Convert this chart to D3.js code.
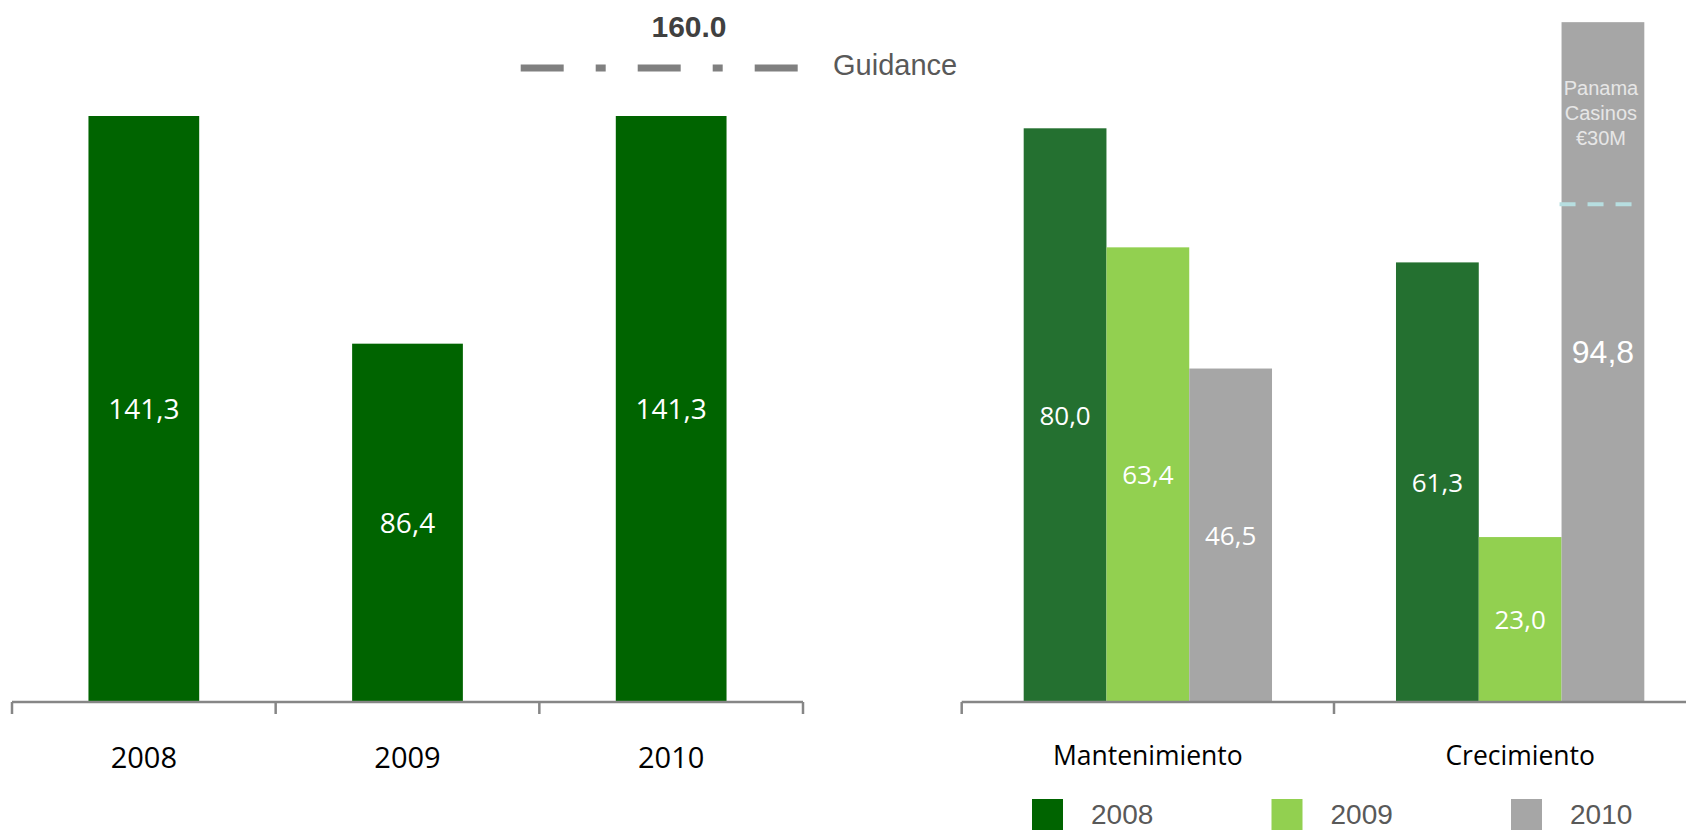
<!DOCTYPE html>
<html>
<head>
<meta charset="utf-8">
<script src="https://cdnjs.cloudflare.com/ajax/libs/d3/7.8.5/d3.min.js"></script>
<style>
    body { margin: 0; background: #fff; }
    svg { display: block; }
</style>
</head>
<body>
<svg width="1686" height="830"></svg>
<script>
// left chart: total capex per year
let years = ["2008", "2009", "2010"]
let totals = [141.3, 86.4, 141.3]
let totalLabels = ["141,3", "86,4", "141,3"]
let guidanceValue = "160.0"

// right chart: split by type
let types = ["Mantenimiento", "Crecimiento"]
let capex2008 = [80.0, 61.3]
let capex2009 = [63.4, 23.0]
let capex2010 = [46.5, 94.8]
let labels2008 = ["80,0", "61,3"]
let labels2009 = ["63,4", "23,0"]
let labels2010 = ["46,5", "94,8"]
let panamaValue = 69.4   // dashed marker inside the 2010 Crecimiento bar

let colors = { "2008": "#247030", "2009": "#92d050", "2010": "#a6a6a6" }

var svg = d3.select("svg");
var baseY = 702;
var calibri = "'Open Sans', 'Liberation Sans', sans-serif",
    arial = "'Liberation Sans', Arial, sans-serif";

// ---------- left chart ----------
var x = d3.scaleBand().domain(years).range([12, 803]).padding(0);
var y = d3.scaleLinear().domain([0, d3.max(totals)]).range([baseY, 116]);
var barW = x.bandwidth() * 0.42;

var left = svg.append("g");

left.selectAll(".bar")
    .data(years)
    .enter().append("rect")
    .attr("class", "bar")
    .attr("x", function (d) { return x(d) + (x.bandwidth() - barW) / 2; })
    .attr("y", function (d, i) { return y(totals[i]); })
    .attr("width", barW)
    .attr("height", function (d, i) { return baseY - y(totals[i]); })
    .attr("fill", "#006400");

left.selectAll(".val")
    .data(years)
    .enter().append("text")
    .attr("x", function (d) { return x(d) + x.bandwidth() / 2; })
    .attr("y", function (d, i) { return (y(totals[i]) + baseY) / 2; })
    .attr("dy", "0.36em")
    .attr("text-anchor", "middle")
    .attr("fill", "#fff")
    .attr("font-family", calibri)
    .attr("font-size", "28px")
    .text(function (d, i) { return totalLabels[i]; });

// category axis with ticks between categories
left.append("line")
    .attr("x1", x.range()[0]).attr("x2", x.range()[1])
    .attr("y1", baseY).attr("y2", baseY)
    .attr("stroke", "#868686").attr("stroke-width", 2.5);

left.selectAll(".tick")
    .data(years.concat(["end"]))
    .enter().append("line")
    .attr("x1", function (d, i) { return x.range()[0] + i * x.bandwidth(); })
    .attr("x2", function (d, i) { return x.range()[0] + i * x.bandwidth(); })
    .attr("y1", baseY).attr("y2", baseY + 12)
    .attr("stroke", "#868686").attr("stroke-width", 2.5);

left.selectAll(".cat")
    .data(years)
    .enter().append("text")
    .attr("x", function (d) { return x(d) + x.bandwidth() / 2; })
    .attr("y", 768)
    .attr("text-anchor", "middle")
    .attr("fill", "#000")
    .attr("font-family", calibri)
    .attr("font-size", "29px")
    .text(function (d) { return d; });

// guidance legend
left.append("text")
    .attr("x", 689).attr("y", 37)
    .attr("text-anchor", "middle")
    .attr("fill", "#404040")
    .attr("font-family", arial)
    .attr("font-weight", "bold")
    .attr("font-size", "30px")
    .text(guidanceValue);

left.append("line")
    .attr("x1", 520.7).attr("x2", 797.7)
    .attr("y1", 68).attr("y2", 68)
    .attr("stroke", "#808080")
    .attr("stroke-width", 7)
    .attr("stroke-dasharray", "43,32,10,32");

left.append("text")
    .attr("x", 833).attr("y", 75)
    .attr("fill", "#595959")
    .attr("font-family", arial)
    .attr("font-size", "29px")
    .text("Guidance");

// ---------- right chart ----------
var series = [
    { year: "2008", values: capex2008, labels: labels2008 },
    { year: "2009", values: capex2009, labels: labels2009 },
    { year: "2010", values: capex2010, labels: labels2010 }
];

var x0 = d3.scaleBand().domain(types).range([961.7, 961.7 + 2 * 372.3]).padding(0);
var x1 = d3.scaleBand().domain(years).range([0, x0.bandwidth() * 0.667]).padding(0);
var groupOff = (x0.bandwidth() - x0.bandwidth() * 0.667) / 2;
var y2 = d3.scaleLinear().domain([0, 80]).range([baseY, 128.3]);

var right = svg.append("g");

var groups = right.selectAll(".serie")
    .data(series)
    .enter().append("g")
    .attr("class", "serie");

groups.selectAll("rect")
    .data(function (s) { return types.map(function (t, i) { return { t: t, v: s.values[i], year: s.year }; }); })
    .enter().append("rect")
    .attr("x", function (d) { return x0(d.t) + groupOff + x1(d.year); })
    .attr("y", function (d) { return y2(d.v); })
    .attr("width", x1.bandwidth())
    .attr("height", function (d) { return baseY - y2(d.v); })
    .attr("fill", function (d) { return colors[d.year]; });

groups.selectAll("text")
    .data(function (s) { return types.map(function (t, i) { return { t: t, v: s.values[i], year: s.year, label: s.labels[i] }; }); })
    .enter().append("text")
    .attr("x", function (d) { return x0(d.t) + groupOff + x1(d.year) + x1.bandwidth() / 2; })
    .attr("y", function (d) {
        var mid = (y2(d.v) + baseY) / 2;
        return d.v > 90 ? mid - 11 : mid;
    })
    .attr("dy", "0.36em")
    .attr("text-anchor", "middle")
    .attr("fill", "#fff")
    .attr("font-family", function (d) { return d.v > 90 ? arial : calibri; })
    .attr("font-size", function (d) { return d.v > 90 ? "32px" : "26px"; })
    .text(function (d) { return d.label; });

// Panama marker in the 2010 growth bar
var px = x0("Crecimiento") + groupOff + x1("2010");
right.append("line")
    .attr("x1", px - 2).attr("x2", px + x1.bandwidth() - 8)
    .attr("y1", y2(panamaValue)).attr("y2", y2(panamaValue))
    .attr("stroke", "#b7dee0")
    .attr("stroke-width", 4)
    .attr("stroke-dasharray", "16,12");

right.append("text")
    .attr("x", px + x1.bandwidth() / 2 - 2)
    .attr("y", 95)
    .attr("text-anchor", "middle")
    .attr("fill", "#e6e6e6")
    .attr("font-family", arial)
    .attr("font-size", "20px")
    .selectAll("tspan")
    .data(["Panama", "Casinos", "€30M"])
    .enter().append("tspan")
    .attr("x", px + x1.bandwidth() / 2 - 2)
    .attr("dy", function (d, i) { return i === 0 ? 0 : 25; })
    .text(function (d) { return d; });

// axis
right.append("line")
    .attr("x1", x0.range()[0]).attr("x2", 1686)
    .attr("y1", baseY).attr("y2", baseY)
    .attr("stroke", "#868686").attr("stroke-width", 2.5);

right.selectAll(".tick")
    .data(types)
    .enter().append("line")
    .attr("x1", function (d) { return x0(d); })
    .attr("x2", function (d) { return x0(d); })
    .attr("y1", baseY).attr("y2", baseY + 12)
    .attr("stroke", "#868686").attr("stroke-width", 2.5);

right.selectAll(".cat")
    .data(types)
    .enter().append("text")
    .attr("x", function (d) { return x0(d) + x0.bandwidth() / 2; })
    .attr("y", 765)
    .attr("text-anchor", "middle")
    .attr("fill", "#000")
    .attr("font-family", calibri)
    .attr("font-size", "26.5px")
    .text(function (d) { return d; });

// legend
var legendColors = { "2008": "#006400", "2009": "#92d050", "2010": "#a6a6a6" };
var lg = right.selectAll(".legend")
    .data(years)
    .enter().append("g")
    .attr("transform", function (d, i) { return "translate(" + (1032 + i * 239.5) + ",799)"; });

lg.append("rect")
    .attr("width", 31).attr("height", 31)
    .attr("fill", function (d) { return legendColors[d]; });

lg.append("text")
    .attr("x", 59).attr("y", 25)
    .attr("fill", "#595959")
    .attr("font-family", arial)
    .attr("font-size", "28px")
    .text(function (d) { return d; });
</script>
</body>
</html>
